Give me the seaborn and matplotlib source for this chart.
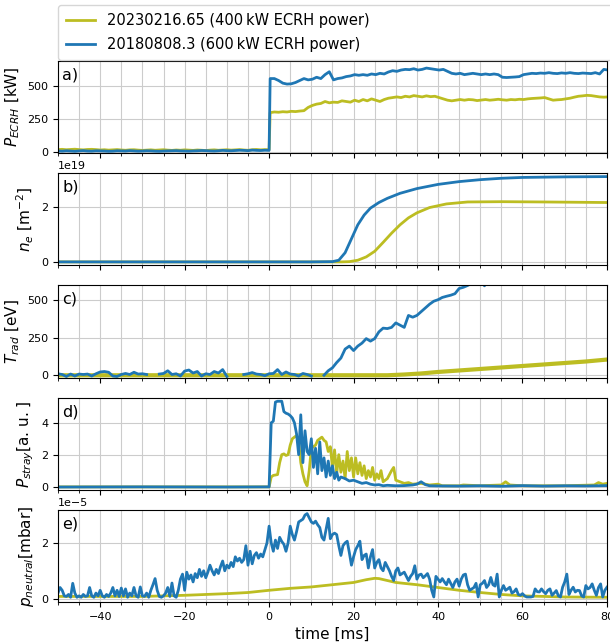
import numpy as np
import pandas as pd
import matplotlib
matplotlib.use("Agg")
import matplotlib.pyplot as plt
from matplotlib.lines import Line2D
from matplotlib.ticker import MultipleLocator
import seaborn as sns

# ---------------- data ----------------
C_Y = "#bcbd22"
C_B = "#1f77b4"
labels = ["20230216.65 (400\u2009kW ECRH power)", "20180808.3 (600\u2009kW ECRH power)"]

# panel a: ECRH power [kW]
t_a = np.concatenate([np.arange(-50, 1), np.arange(0.25, 81)])
pa_yellow = [18,20,17,19,21,18,16,19,20,18, 15,17,14,16,18,15,13,16,17,14,
             12,14,16,13,15,17,14,12,15,13, 16,14,12,15,13,11,14,16,13,15,
             17,14,16,18,15,13,17,19,16,18, 17,
             300,305,303,307,305,310,308,312,315,340, 355,365,370,385,375,380,378,390,385,380,
             395,385,400,390,405,395,385,400,410,415, 420,415,425,420,430,425,420,428,422,425,
             415,405,395,390,395,400,395,400,398,392, 396,400,395,398,402,398,395,400,398,402,
             400,405,408,410,412,415,405,395,398,400, 405,410,418,425,428,432,430,425,420,418,
             420]
pa_blue = [8,6,9,7,5,8,10,7,6,9, 8,7,5,6,9,8,7,10,8,6,
           7,9,8,6,5,7,8,9,10,8, 7,6,8,9,11,10,8,7,9,12,
           10,9,11,13,12,10,14,12,11,13, 12,
           560,560,545,525,518,520,530,545,560,550, 555,570,560,590,612,550,560,565,575,580,
           590,585,590,585,595,590,600,595,610,620, 615,625,630,628,635,625,630,640,635,630,
           625,630,615,600,595,600,590,595,600,595, 590,595,590,595,590,570,568,570,572,575,
           590,595,600,598,602,600,605,600,598,603, 600,605,600,598,602,600,598,605,595,630,
           625]

# panel b: line density [m^-2] (in 1e19)
t_b_yellow = [-50, 17, 19, 21, 23, 25, 27, 29, 31, 33, 35, 38, 42, 47, 55, 65, 80]
pb_yellow = [0.02,0.02,0.03,0.08,0.2,0.4,0.72,1.05,1.35,1.6,1.78,1.97,2.1,2.17,2.18,2.17,2.15]
t_b_blue = [-50, 10, 15, 16.5, 18, 19.5, 21, 22.5, 24, 26, 28, 31, 35, 40, 45, 50, 55, 60, 70, 80]
pb_blue = [0.02,0.02,0.03,0.08,0.35,0.85,1.35,1.7,1.95,2.15,2.3,2.48,2.65,2.8,2.9,2.97,3.02,3.05,3.07,3.08]

# panel c: radiation temperature [eV]
t_c_yellow = [-50, 28, 32, 36, 40, 45, 50, 55, 60, 65, 70, 75, 80]
pc_yellow = [0, 0, 5, 12, 22, 32, 42, 52, 62, 72, 82, 92, 105]
t_c_blue = np.arange(-50, 54)
nan = np.nan
pc_blue = [10,5,-8,8,-5,8,5,8,-5,10,
           22,25,20,-5,-8,5,12,5,20,8,
           10,5,nan,nan,8,12,30,5,10,-5,
           28,35,15,25,-5,10,5,25,15,38,
           -8,nan,nan,nan,5,10,18,8,5,-3,
           10,12,38,5,22,8,5,-5,12,5,
           -5,nan,nan,0,30,50,85,115,175,195,
           165,195,215,245,228,245,290,315,312,320,
           350,335,320,400,388,400,425,450,475,495,
           505,520,528,535,545,580,588,600,615,625,
           640,598,650,680]

# panel d: stray radiation [a.u.]
t_d_yellow = [-50,-30,0,0.5,1,2,2.5,3,3.5,4,4.5,5,5.5,6,6.5,7,7.5,8,8.5,9,9.5,10,10.5,11,11.5,12,
              12.5,13,13.5,14,14.5,15,15.5,16,16.5,17,17.5,18,18.5,19,19.5,20,20.5,21,21.5,22,22.5,
              23,23.5,24,24.5,25,25.5,26,26.5,27,28,29,29.5,30,31,32,33,34,36,38,40,41,45,46,50,55,
              56,57,60,70,77,78,79,80]
pd_yellow = [-0.02,-0.02,-0.02,0.6,0.7,0.75,1.5,2.0,2.05,1.95,2.0,2.6,3.0,3.1,3.2,2.8,1.5,0.8,0.3,0.05,
             1.0,2.4,2.5,2.6,2.9,3.0,3.1,2.9,2.8,2.2,2.5,1.2,2.3,0.8,2.0,0.9,1.6,0.5,2.2,1.0,1.8,0.6,
             1.8,0.8,1.5,0.7,1.3,0.5,1.0,0.6,1.2,0.4,0.8,0.5,1.0,0.3,0.5,1.0,1.2,0.4,0.3,0.2,0.25,0.15,
             0.2,0.1,0.15,0.05,0.05,0.1,0.05,0.1,0.3,0.1,0.05,0.05,0.1,0.25,0.15,0.2]
t_d_blue = [-50,-30,-10,0,0.5,1.0,1.5,2,2.5,3,3.5,4,4.5,5,5.5,6,6.5,7,7.5,8,8.5,9,9.5,10,10.5,11,11.5,
            12,12.5,13,13.5,14,14.5,15,15.5,16,16.5,17,18,19,20,21,22,23,24,25,26,27,28,30,32,34,35,
            36,37,38,40,45,50,55,60,65,70,75,80]
pd_blue = [-0.03,-0.02,-0.03,-0.02,4.0,4.1,5.3,5.35,5.35,5.35,4.7,4.6,4.55,4.45,4.3,4.0,3.3,2.0,4.5,1.5,
           3.5,2.2,2.0,3.0,1.2,2.4,0.8,2.8,1.0,1.8,0.6,1.6,0.7,1.3,0.5,0.9,0.4,0.6,0.5,0.35,0.4,0.3,0.2,
           0.25,0.15,0.1,0.12,0.05,0.08,0.05,0.06,0.1,0.15,0.3,0.12,0.05,0.04,0.03,0.05,0.02,0.06,0.03,
           0.05,0.04,0.06]

# panel e: neutral pressure [mbar] (in 1e-5)
t_e_yellow = [-50,-30,-20,-10,-5,0,5,10,15,20,23,25,26,28,30,35,40,45,50,55,60,70,80]
pe_yellow = [0.08,0.08,0.12,0.18,0.22,0.3,0.37,0.42,0.5,0.58,0.68,0.73,0.72,0.65,0.58,0.5,0.4,0.3,
             0.22,0.15,0.1,0.06,0.05]
t_e_blue = np.arange(-50, 80.5, 0.5)
pe_blue = [0.2,0.4,0.3,0.1,0.08,0.15,0.05,0.55,0.2,0.05,
           0.1,0.05,0.15,0.08,0.1,0.4,0.1,0.05,0.2,0.1,
           0.3,0.1,0.05,0.15,0.08,0.2,0.4,0.1,0.3,0.08,
           0.38,0.1,0.35,0.05,0.2,0.1,0.4,0.1,0.05,0.42,
           0.1,0.08,0.2,0.05,0.3,0.5,0.72,0.3,0.08,0.05,
           0.1,0.2,0.4,0.08,0.56,0.1,0.05,0.3,0.7,0.88,
           0.3,0.95,0.7,0.85,0.6,0.9,0.75,1.05,0.8,1.0,
           0.75,0.95,1.2,1.0,0.85,1.05,0.9,1.15,1.35,1.0,
           1.2,1.1,1.3,1.15,1.5,1.35,1.45,1.3,1.4,1.9,
           1.2,1.7,1.25,1.55,1.65,1.45,1.6,1.5,1.75,2.0,
           2.6,2.0,1.7,2.1,1.8,2.2,2.05,1.95,1.7,2.0,
           2.6,2.3,2.1,2.4,2.75,2.8,2.85,3.0,3.05,2.9,
           2.75,2.7,2.78,2.65,2.55,2.2,2.1,2.5,2.88,2.15,
           2.3,2.35,2.3,1.9,1.55,1.9,2.0,2.06,1.65,1.2,
           1.5,1.76,1.9,2.06,1.4,1.55,1.6,1.1,1.5,1.76,
           1.1,1.3,1.4,1.1,1.0,1.3,1.15,1.0,0.8,0.65,
           1.0,1.1,0.85,0.9,0.95,0.8,0.65,0.8,0.9,1.18,
           0.7,0.85,0.88,0.75,0.82,0.9,0.7,0.3,0.06,0.8,
           0.7,0.6,0.72,0.6,0.5,0.7,0.55,0.4,0.6,0.7,
           0.45,0.7,0.85,0.88,0.5,0.3,0.35,0.4,0.55,0.06,
           0.5,0.55,0.65,0.4,0.5,0.76,0.5,0.45,0.88,0.06,
           0.3,0.47,0.3,0.35,0.41,0.2,0.25,0.35,0.15,0.12,
           0.18,0.1,0.06,0.06,0.06,0.08,0.35,0.25,0.24,0.35,
           0.25,0.18,0.3,0.35,0.12,0.2,0.29,0.1,0.06,0.41,
           0.6,0.88,0.15,0.3,0.41,0.24,0.3,0.29,0.1,0.06,
           0.47,0.35,0.4,0.53,0.3,0.12,0.4,0.53,0.06,0.3,
           0.41]

ylabels = [r"$P_{ECRH}$ [kW]", r"$n_e$ [m$^{-2}$]", r"$T_{rad}$ [eV]",
           r"$P_{stray}$[a. u. ]", r"$p_{neutral}$[mbar]"]
panel_tags = ["a)", "b)", "c)", "d)", "e)"]

# ---------------- plotting ----------------
plt.rcParams["font.family"] = ["DejaVu Sans"]
fig, axes = plt.subplots(5, 1, sharex=True, figsize=(6.1, 6.44), dpi=100)
fig.subplots_adjust(left=0.095, right=0.995, top=1 - 61 / 644, bottom=1 - 602 / 644, hspace=0.22)


def draw(ax, t, v, color, lw=2.0, scale=1.0):
    t = np.asarray(t, float)
    v = np.asarray(v, float) * scale
    seg = np.cumsum(np.isnan(v))
    df = pd.DataFrame({"t": t, "v": v, "seg": seg}).dropna()
    sns.lineplot(data=df, x="t", y="v", units="seg", estimator=None, color=color,
                 lw=lw, ax=ax, legend=False)


draw(axes[0], t_a, pa_yellow, C_Y)
draw(axes[0], t_a, pa_blue, C_B)
draw(axes[1], t_b_yellow, pb_yellow, C_Y, scale=1e19)
draw(axes[1], t_b_blue, pb_blue, C_B, scale=1e19)
draw(axes[2], t_c_yellow, pc_yellow, C_Y, lw=3.0)
draw(axes[2], t_c_blue, pc_blue, C_B)
draw(axes[3], t_d_yellow, pd_yellow, C_Y)
draw(axes[3], t_d_blue, pd_blue, C_B)
draw(axes[4], t_e_yellow, pe_yellow, C_Y, scale=1e-5)
draw(axes[4], t_e_blue, pe_blue, C_B, scale=1e-5)

ylims = [(-8, 694), (-0.1e19, 3.2e19), (-15, 600), (-0.2, 5.57), (-0.12e-5, 3.18e-5)]
yticks = [[0, 250, 500], [0, 2e19], [0, 250, 500], [0, 2, 4], [0, 2e-5]]

for ax, yl, yt, lab, tag in zip(axes, ylims, yticks, ylabels, panel_tags):
    ax.set_xlim(-50, 80)
    ax.set_ylim(*yl)
    ax.set_yticks(yt)
    ax.xaxis.set_major_locator(MultipleLocator(20))
    ax.xaxis.set_minor_locator(MultipleLocator(5))
    ax.grid(True, axis="x", which="both", color="#cccccc", lw=0.8)
    ax.grid(True, axis="y", which="major", color="#cccccc", lw=0.8)
    ax.set_axisbelow(True)
    ax.tick_params(labelsize=8)
    ax.yaxis.get_offset_text().set_fontsize(8)
    ax.set_ylabel(lab, fontsize=11)
    ax.set_xlabel("")
    ax.text(0.008, 0.93, tag, transform=ax.transAxes, ha="left", va="top", fontsize=11.5)

axes[-1].set_xlabel("time [ms]", fontsize=11)

handles = [Line2D([0], [0], color=C_Y, lw=2), Line2D([0], [0], color=C_B, lw=2)]
fig.legend(handles, labels, loc="upper left", bbox_to_anchor=(0.095, 0.992, 0.91, 0.0),
           mode="expand", fontsize=10.5, borderaxespad=0.0, handlelength=2.0,
           labelspacing=0.6, borderpad=0.55)

fig.savefig("out.png", dpi=100)
